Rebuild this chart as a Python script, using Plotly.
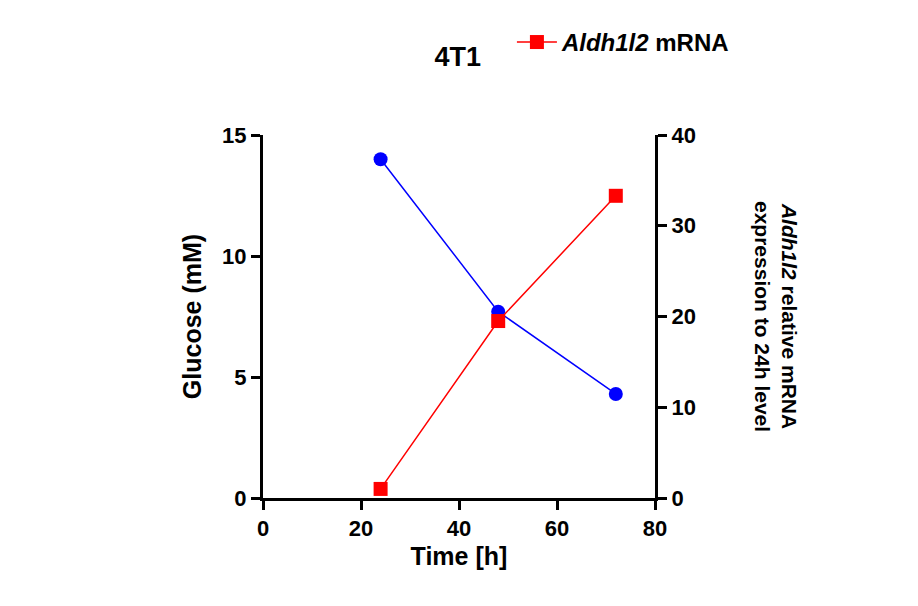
import plotly.graph_objects as go

time_h = [24, 48, 72]
glucose_mm = [14.0, 7.7, 4.3]
aldh_mrna = [1.0, 19.5, 33.3]

fig = go.Figure()
fig.add_trace(go.Scatter(x=time_h, y=glucose_mm, mode='lines+markers', name='Glucose (mM)',
                         line=dict(color='blue', width=1.5), marker=dict(color='blue', size=14, symbol='circle'),
                         showlegend=False))
fig.add_trace(go.Scatter(x=time_h, y=aldh_mrna, mode='lines+markers', name='<b><i>Aldh1l2</i> mRNA</b>',
                         line=dict(color='red', width=1.5), marker=dict(color='red', size=14, symbol='square'),
                         yaxis='y2'))

axis = dict(showline=True, linecolor='black', linewidth=3, ticks='outside', tickwidth=3,
            ticklen=9, tickcolor='black', showgrid=False, zeroline=False, automargin=False,
            tickfont=dict(size=22, color='black', family='Liberation Sans, Arial Black'),
            tickprefix='<b>', ticksuffix='</b>')
fig.update_layout(
    width=918, height=606, plot_bgcolor='white', paper_bgcolor='white',
    font=dict(family='Liberation Sans, Arial', color='black'),
    margin=dict(l=255, r=271, t=100, b=116),
    title=dict(text='<b>4T1</b>', x=0.49, xanchor='center', y=0.935, font=dict(size=27)),
    xaxis=dict(axis, range=[0, 80], dtick=20,
               title=dict(text='<b>Time [h]</b>', font=dict(size=25), standoff=8)),
    yaxis=dict(axis, range=[0, 15], dtick=5,
               title=dict(text='<b>Glucose (mM)</b>', font=dict(size=25), standoff=14)),
    yaxis2=dict(axis, range=[0, 40], dtick=10, overlaying='y', side='right'),
    legend=dict(x=0.635, y=1.255, xanchor='left', yanchor='middle', font=dict(size=24),
                bgcolor='rgba(0,0,0,0)', itemwidth=40),
)
fig.add_annotation(text='<b><i>Aldh1l2</i> relative mRNA<br>expression to 24h level</b>',
                   xref='paper', yref='paper', x=1.31, y=0.5, textangle=90, showarrow=False,
                   font=dict(size=21, color='black'), xanchor='center', yanchor='middle')
fig.write_html("out.html")
